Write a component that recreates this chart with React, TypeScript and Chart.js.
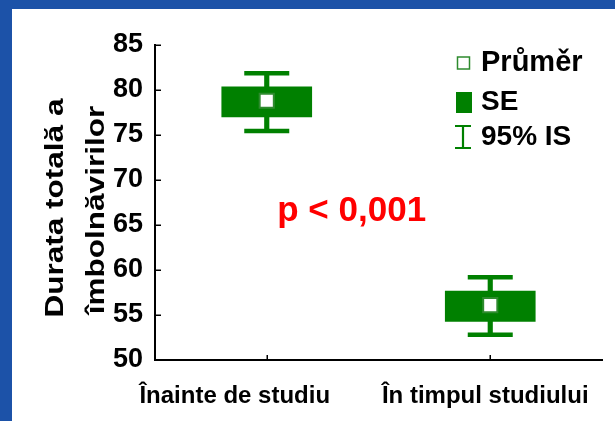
import React, { useEffect, useRef } from "react";
import { Chart, registerables } from "chart.js";

Chart.register(...registerables);

// ---- data ----
const categories = ["Înainte de studiu", "În timpul studiului"];
const meanValues = [78.8, 56.1];
const seLow = [77.0, 54.3];
const seHigh = [80.35, 57.65];
const ciLow = [75.45, 52.8];
const ciHigh = [81.85, 59.2];
const yMin = 50;
const yMax = 85;
const yStep = 5;
const legendLabels = ["Průměr", "SE", "95% IS"];
const yTitleLines = ["Durata totală a", "îmbolnăvirilor"];
const pValueLabel = "p < 0,001";

const GREEN = "#008000";
const FONT = "'Liberation Sans', Arial, Helvetica, sans-serif";
// horizontal nudge of each category label relative to its tick (style only)
const X_LABEL_NUDGE = [-32, -5];

const decorPlugin = {
  id: "decor",
  afterDraw(chart: any) {
    const ctx = chart.ctx as CanvasRenderingContext2D;
    const xs = chart.scales.x;
    const ys = chart.scales.y;
    const area = chart.chartArea;
    ctx.save();
    // inward tick marks
    ctx.strokeStyle = "#000";
    ctx.lineWidth = 1.5;
    ys.ticks.forEach((t: any) => {
      const y = Math.round(ys.getPixelForValue(t.value)) + 0.25;
      ctx.beginPath();
      ctx.moveTo(area.left, y);
      ctx.lineTo(area.left + 6, y);
      ctx.stroke();
    });
    categories.forEach((_, i) => {
      const x = Math.round(xs.getPixelForValue(i)) + 0.25;
      ctx.beginPath();
      ctx.moveTo(x, area.bottom);
      ctx.lineTo(x, area.bottom - 5);
      ctx.stroke();
    });

    // category labels
    ctx.fillStyle = "#000";
    ctx.font = `bold 24px ${FONT}`;
    ctx.textAlign = "center";
    ctx.textBaseline = "middle";
    xs.getLabels().forEach((lab: string, i: number) => {
      ctx.fillText(lab, xs.getPixelForValue(i) + X_LABEL_NUDGE[i], area.bottom + 36.5);
    });

    // y-axis title (two rotated lines)
    ctx.font = `bold 25px ${FONT}`;
    ctx.textAlign = "center";
    ctx.textBaseline = "alphabetic";
    const titlePos = [
      [51, 199],
      [92, 201],
    ];
    yTitleLines.forEach((line, i) => {
      ctx.save();
      ctx.translate(titlePos[i][0], titlePos[i][1]);
      ctx.rotate(-Math.PI / 2);
      ctx.scale(1.26, 1);
      ctx.fillText(line, 0, 0);
      ctx.restore();
    });

    // p-value
    ctx.fillStyle = "#ff0000";
    ctx.font = `bold 35px ${FONT}`;
    ctx.textAlign = "center";
    ctx.textBaseline = "middle";
    ctx.fillText(pValueLabel, xs.getPixelForValue(0.38), ys.getPixelForValue(66.55));

    // legend
    const lx = 444;
    const tx = 469;
    const rows = [54, 93.5, 128];
    ctx.textAlign = "left";
    ctx.textBaseline = "middle";
    ctx.fillStyle = "#000";
    legendLabels.forEach((lab, i) => {
      ctx.font = `bold ${i === 0 ? 29 : 28}px ${FONT}`;
      ctx.fillText(lab, tx, rows[i]);
    });
    // hollow square
    ctx.fillStyle = "#fff";
    ctx.strokeStyle = "#2e8b2e";
    ctx.lineWidth = 1.5;
    ctx.fillRect(lx + 1.5, rows[0] - 6, 12, 12);
    ctx.strokeRect(lx + 1.5, rows[0] - 6, 12, 12);
    // filled rect
    ctx.fillStyle = GREEN;
    ctx.fillRect(lx, rows[1] - 10.5, 16, 21);
    // I-beam
    ctx.strokeStyle = GREEN;
    ctx.lineWidth = 2.2;
    ctx.beginPath();
    ctx.moveTo(lx - 1, rows[2] - 11);
    ctx.lineTo(lx + 15, rows[2] - 11);
    ctx.moveTo(lx + 7, rows[2] - 11);
    ctx.lineTo(lx + 7, rows[2] + 11);
    ctx.moveTo(lx - 1, rows[2] + 11);
    ctx.lineTo(lx + 15, rows[2] + 11);
    ctx.stroke();
    ctx.restore();
  },
};

export default function App() {
  const ref = useRef<HTMLCanvasElement | null>(null);

  useEffect(() => {
    if (!ref.current) return;
    const chart = new Chart(ref.current, {
      type: "bar",
      data: {
        labels: categories,
        datasets: [
          {
            type: "line",
            label: "Průměr",
            data: meanValues,
            showLine: false,
            pointStyle: "rect",
            pointRadius: 10,
            pointBackgroundColor: "#ffffff",
            pointBorderColor: "#2e8b2e",
            pointBorderWidth: 2,
            order: 0,
          } as any,
          {
            type: "line",
            label: "CI high",
            data: ciHigh,
            showLine: false,
            pointStyle: "line",
            pointRadius: 22.5,
            pointBorderColor: GREEN,
            pointBorderWidth: 4.5,
            order: 1,
          } as any,
          {
            type: "line",
            label: "CI low",
            data: ciLow,
            showLine: false,
            pointStyle: "line",
            pointRadius: 22.5,
            pointBorderColor: GREEN,
            pointBorderWidth: 4.5,
            order: 1,
          } as any,
          {
            type: "bar",
            label: "SE",
            data: seLow.map((l, i) => [l, seHigh[i]]),
            backgroundColor: GREEN,
            borderWidth: 0,
            barThickness: 90,
            grouped: false,
            order: 2,
          } as any,
          {
            type: "bar",
            label: "95% IS",
            data: ciLow.map((l, i) => [l, ciHigh[i]]),
            backgroundColor: GREEN,
            borderWidth: 0,
            barThickness: 4.5,
            grouped: false,
            order: 3,
          } as any,
        ],
      },
      options: {
        responsive: false,
        animation: false,
        events: [],
        layout: { autoPadding: false, padding: { left: 0, top: 36, right: 13, bottom: 0 } },
        plugins: {
          legend: { display: false },
          tooltip: { enabled: false },
          title: { display: false },
        },
        scales: {
          x: {
            type: "category",
            grid: { display: false, drawTicks: false },
            border: { display: true, color: "#000", width: 2 },
            ticks: { display: false },
            afterFit: (s: any) => {
              s.height = 61;
              s.paddingLeft = 0;
              s.paddingRight = 0;
            },
          },
          y: {
            type: "linear",
            min: yMin,
            max: yMax,
            grid: { display: false, drawTicks: false },
            border: { display: true, color: "#000", width: 2 },
            ticks: {
              stepSize: yStep,
              color: "#000",
              font: { family: FONT, size: 27, weight: "bold" },
              padding: 12,
            },
            afterFit: (s: any) => {
              s.width = 143;
              s.paddingTop = 0;
              s.paddingBottom = 0;
            },
          },
        },
      } as any,
      plugins: [decorPlugin],
    });
    return () => chart.destroy();
  }, []);

  return (
    <div
      style={{
        position: "fixed",
        left: 0,
        top: 0,
        width: 615,
        height: 421,
        background: "#1c52a8",
        overflow: "hidden",
      }}
    >
      <div
        style={{
          position: "absolute",
          left: 12,
          top: 9,
          width: 603,
          height: 412,
          background: "#ffffff",
        }}
      >
        <canvas ref={ref} width={603} height={412} style={{ display: "block", width: 603, height: 412 }} />
      </div>
    </div>
  );
}
